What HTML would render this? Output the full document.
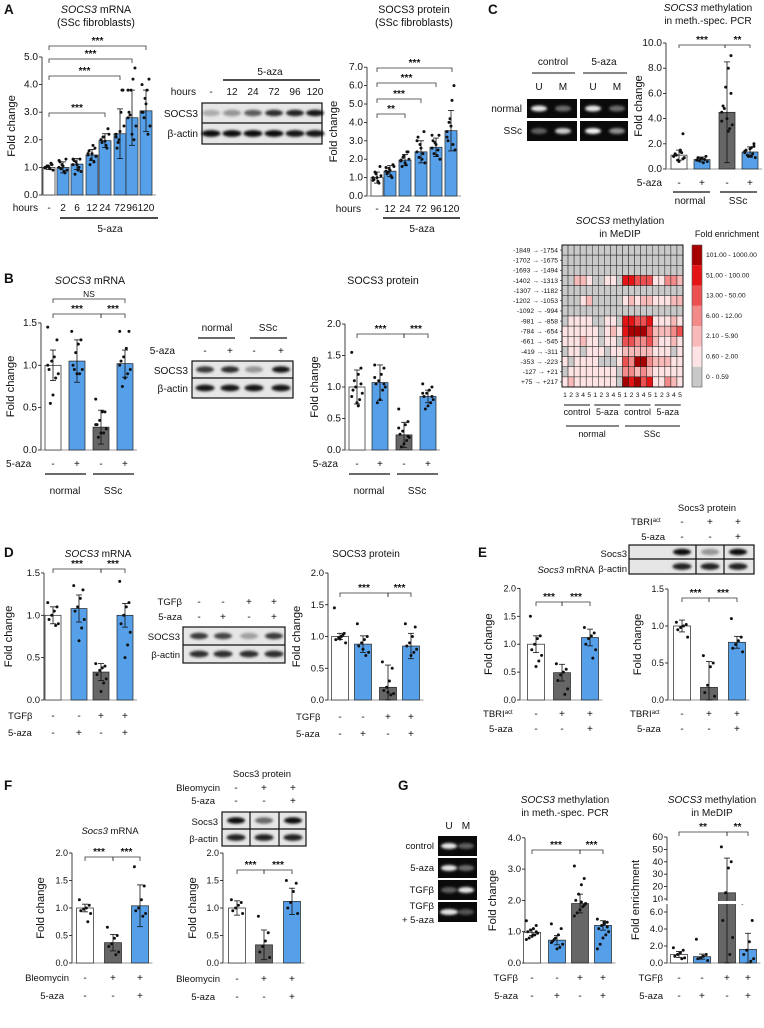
<!DOCTYPE html>
<html><head><meta charset="utf-8"><style>
html,body{margin:0;padding:0;background:#fff;}
svg{display:block;font-family:"Liberation Sans",Arial,sans-serif;}
</style></head><body>
<svg id="fig" width="764" height="1028" viewBox="0 0 764 1028" xmlns="http://www.w3.org/2000/svg">
<defs><filter id="blur" x="-50%" y="-100%" width="200%" height="300%"><feGaussianBlur stdDeviation="1.3"/></filter></defs>
</svg>
<script>
// ---------- DATA ----------
const aMrnaCats=['-','2','6','12','24','72','96','120'];
const aMrnaVals=[1.0,1.0,1.12,1.45,1.97,2.22,2.8,3.05];
const aMrnaErr=[0.08,0.2,0.2,0.2,0.25,0.9,1.0,0.75];
const aMrnaPts=[[1,1.1,0.95,1.05,1.0,0.9,1.15,1.0,1.05,0.98],[1.0,1.3,0.85,1.1,1.2,0.9,0.8,1.05,0.95,1.25],[1.1,1.3,0.9,1.2,1.25,0.85,1.0,1.1,0.75,1.3],[1.5,1.7,1.8,1.3,1.6,1.4,1.2,1.5,1.1,1.45],[2.0,2.4,1.8,2.1,1.9,2.2,1.7,1.95,2.1,2.0],[2.2,3.8,3.0,2.0,1.7,2.5,3.8,2.3,1.9,2.1],[2.8,4.6,4.2,3.8,3.0,2.5,2.0,2.2,2.9,3.8],[3.0,4.2,3.8,3.5,3.0,2.5,2.2,3.3,2.8,4.0]];
const aMrnaTicks=[0,1,2,3,4,5];
const aMrnaTickLabels=['0.0','1.0','2.0','3.0','4.0','5.0'];

const aProtCats=['-','12','24','72','96','120'];
const aProtVals=[1.0,1.35,1.95,2.4,2.65,3.55];
const aProtErr=[0.3,0.3,0.3,0.6,0.5,1.1];
const aProtPts=[[1,1.6,0.8,1.2,0.9,1.1,0.7,1.0,1.3,0.85],[1.35,1.7,1.1,1.5,1.2,1.6,1.0,1.4,1.3,1.55],[1.9,2.4,1.7,2.2,1.6,2.0,2.4,1.8,2.1,1.95],[2.4,3.5,2.0,2.8,3.2,1.8,2.3,2.6,2.1,3.0],[2.6,3.3,2.2,2.9,3.0,2.0,2.5,2.8,2.3,3.3],[3.5,6.0,5.2,4.2,3.0,2.5,2.8,3.8,4.0,3.2]];
const aProtTicks=[0,1,2,3,4,5,6,7];
const aProtTickLabels=['0.0','1.0','2.0','3.0','4.0','5.0','6.0','7.0'];

const cMspVals=[1.1,0.75,4.5,1.35];
const cMspErr=[0.4,0.2,4.0,0.4];
const cMspPts=[[1.0,2.8,1.4,0.7,1.2,0.9,1.3,0.6,1.1,1.0,0.8,1.5],[0.7,1.0,0.5,0.8,0.9,0.6,0.75,0.85,0.65,0.7],[4.5,9.0,8.0,6.5,5.0,3.5,3.2,4.0,4.8,3.8,6.0,3.0],[1.3,2.0,1.7,1.0,1.5,0.9,1.2,1.6,1.1,1.4,1.8,1.0]];
const cMspTicks=[0,2,4,6,8,10];
const cMspTickLabels=['0.0','2.0','4.0','6.0','8.0','10.0'];

const heatRowLabels=['-1849 \u2192 -1754','-1702 \u2192 -1675','-1693 \u2192 -1494','-1402 \u2192 -1313','-1307 \u2192 -1182','-1202 \u2192 -1053','-1092 \u2192 -994','-981 \u2192 -858','-784 \u2192 -654','-661 \u2192 -545','-419 \u2192 -311','-353 \u2192 -223','-127 \u2192 +21','+75 \u2192 +217'];
const heatLevels=[
[0,0,0,0,0,0,0,0,0,0,0,0,0,0,0,0,0,0,0,0],
[0,0,0,0,0,0,0,0,0,0,0,0,0,0,0,0,0,0,0,0],
[0,0,0,0,0,0,0,0,0,0,0,0,0,0,0,0,0,0,0,0],
[0,0,2,2,1,0,0,1,1,0,5,5,4,4,4,1,1,3,3,2],
[0,0,0,0,0,0,0,0,0,0,0,0,0,0,0,0,0,0,0,0],
[0,0,0,1,2,0,0,0,0,0,1,2,1,2,2,1,1,1,2,2],
[0,0,0,0,0,0,0,0,0,0,0,0,0,0,0,0,0,0,0,0],
[0,1,1,1,1,0,0,1,1,0,5,5,4,4,5,1,1,1,2,1],
[1,1,1,1,1,1,0,1,2,1,5,6,6,6,4,2,2,2,3,4],
[1,1,1,2,1,1,0,1,1,0,4,4,3,3,4,2,1,1,2,1],
[0,1,1,0,1,1,1,0,1,1,2,2,2,2,2,1,1,1,0,1],
[1,0,1,1,1,1,0,0,0,1,4,3,6,6,3,2,2,2,1,1],
[0,1,1,1,1,1,1,1,1,0,3,3,2,3,2,1,1,1,1,1],
[1,2,1,1,1,1,1,1,1,0,6,5,6,4,5,1,1,3,2,1]];
const heatLegendLabels=['101.00 - 1000.00','51.00 - 100.00','13.00 - 50.00','6.00 - 12.00','2.10 - 5.90','0.60 - 2.00','0 - 0.59'];
const heatColors=['#c9c9c9','#fde3e3','#f8b9b9','#f38a8a','#ec5050','#e41414','#a60000'];

const bMrnaVals=[1.0,1.05,0.27,1.02];
const bMrnaErr=[0.18,0.25,0.2,0.16];
const bMrnaPts=[[1.45,1.3,1.1,1.05,0.95,0.9,0.85,0.65,0.55,1.0],[1.4,1.3,1.25,1.15,1.0,0.95,0.9,0.9,0.95],[0.6,0.45,0.45,0.35,0.3,0.25,0.2,0.2,0.15,0.3],[1.4,1.4,1.2,1.1,1.05,0.95,0.9,0.85,0.75,1.0]];
const bProtVals=[1.0,1.07,0.24,0.85];
const bProtErr=[0.27,0.28,0.2,0.1];
const bProtPts=[[1.55,1.3,1.2,1.0,0.95,0.9,0.8,0.75,1.1,0.85,1.05,0.7],[1.35,1.3,1.2,1.1,1.05,1.0,0.95,0.8,0.75,1.15,1.05],[0.65,0.45,0.4,0.3,0.25,0.2,0.15,0.1,0.05,0.35,0.22],[1.05,1.0,0.95,0.9,0.85,0.8,0.75,0.7,0.65,0.9,0.85]];
const ticks15=[0,0.5,1,1.5];
const ticks15Labels=['0.0','0.5','1.0','1.5'];
const ticks20=[0,0.5,1,1.5,2];
const ticks20Labels=['0.0','0.5','1.0','1.5','2.0'];

const dMrnaVals=[1.0,1.08,0.33,1.0];
const dMrnaErr=[0.1,0.16,0.1,0.14];
const dMrnaPts=[[1.15,1.1,1.05,1.0,0.95,0.9,0.88],[1.35,1.3,1.2,1.1,1.05,0.95,0.85,0.7],[0.43,0.4,0.38,0.35,0.3,0.25,0.2,0.1],[1.4,1.15,1.1,1.0,0.9,0.8,0.65,0.5]];
const dProtVals=[1.0,0.88,0.2,0.85];
const dProtErr=[0.05,0.13,0.35,0.2];
const dProtPts=[[1.45,1.05,1.0,0.98,0.95,0.9,1.02,0.96],[1.2,1.0,0.95,0.9,0.85,0.75,0.7,0.8],[0.6,0.5,0.3,0.2,0.15,0.1,0.08,0.12],[1.2,1.15,1.0,0.9,0.85,0.8,0.75,0.7]];

const eMrnaVals=[1.0,0.49,1.12];
const eMrnaErr=[0.15,0.15,0.15];
const eMrnaPts=[[1.5,1.15,1.1,1.0,0.9,0.8,0.7,0.6],[0.65,0.55,0.5,0.45,0.35,0.2,0.1],[1.3,1.2,1.15,1.1,1.0,0.9,0.75]];
const eProtVals=[1.0,0.17,0.78];
const eProtErr=[0.08,0.35,0.08];
const eProtPts=[[1.05,1.02,1.0,0.98,0.95,0.85],[0.6,0.5,0.45,0.2,0.1,0.05],[1.1,0.85,0.8,0.75,0.7,0.65]];
const ticks15b=[0,0.5,1,1.5];

const fMrnaVals=[1.0,0.37,1.04];
const fMrnaErr=[0.07,0.15,0.38];
const fMrnaPts=[[1.15,1.05,1.0,0.98,0.95,0.9,0.75],[0.65,0.5,0.45,0.35,0.3,0.2,0.15],[1.75,1.4,1.15,1.0,0.95,0.9,0.85]];
const fProtVals=[1.0,0.33,1.12];
const fProtErr=[0.13,0.27,0.24];
const fProtPts=[[1.15,1.1,1.05,1.0,0.95,0.9],[0.85,0.55,0.4,0.3,0.2,0.1],[1.5,1.45,1.3,1.1,1.0,0.9]];

const gMspVals=[0.98,0.73,1.9,1.2];
const gMspErr=[0.1,0.15,0.3,0.15];
const gMspPts=[[1.35,1.2,1.1,1.05,1.0,0.95,0.9,0.85,0.8,0.75,1.0,0.9],[1.25,1.1,0.9,0.8,0.7,0.6,0.5,0.45,0.75,0.65],[3.1,2.7,2.5,2.2,2.0,1.9,1.8,1.7,1.6,1.5,1.85,1.95],[1.4,1.3,1.25,1.2,1.1,1.0,0.9,0.8,0.6,0.45,1.15,1.3]];
const gMspTicks=[0,1,2,3,4];
const gMspTickLabels=['0.0','1.0','2.0','3.0','4.0'];
const gMedipVals=[1.0,0.75,15,1.6];
const gMedipErr=[0.35,0.3,28,1.9];
const gMedipPts=[[1.8,1.5,1.2,1.0,0.8,0.6,0.5],[2.8,1.0,0.8,0.6,0.5,0.3],[52,40,35,15,5,3,1],[7,5,2.5,1.5,1.0,0.5,0.2]];
const gMedipTicksLow=[0,2,4,6];
const gMedipTicksLowLabels=['0.0','2.0','4.0','6.0'];
const gMedipTicksHigh=[10,20,30,40,50,60];

// ---------- HELPERS ----------
const NS='http://www.w3.org/2000/svg';
const FSK=1.12;
const svg=document.getElementById('fig');
function mk(tag,attrs,name,parent){
  const el=document.createElementNS(NS,tag);
  for(const k in attrs) el.setAttribute(k,attrs[k]);
  
  
  (parent||svg).appendChild(el);
  return el;
}
function txt(x,y,s,name,o){
  o=o||{};
  const el=mk('text',{x:x,y:y,'font-size':(o.fs||9)*FSK,'text-anchor':o.anchor||'middle',fill:o.fill||'#111','font-weight':o.bold?'bold':'normal','font-style':o.italic?'italic':'normal'},name);
  if(o.rot) el.setAttribute('transform','rotate(-90 '+x+' '+y+')');
  el.textContent=s;
  return el;
}
function titleTxt(x,y,ital,rest,name,fs){
  const el=mk('text',{x:x,y:y,'font-size':(fs||9.5)*FSK,'text-anchor':'middle',fill:'#111'},name);
  if(ital){const t=document.createElementNS(NS,'tspan');t.setAttribute('font-style','italic');t.textContent=ital;el.appendChild(t);}
  const t2=document.createElementNS(NS,'tspan');t2.textContent=rest;el.appendChild(t2);
  return el;
}
function line(x1,y1,x2,y2,name,w,c){return mk('line',{x1:x1,y1:y1,x2:x2,y2:y2,stroke:c||'#111','stroke-width':w||0.8},name);}
const FILL={w:'#ffffff',b:'#56a0ea',g:'#666666'};
function chart(o){
  const yOf=o.map||(v=>o.y0-v*o.ppu);
  const top=o.axisTop!==undefined?o.axisTop:yOf(o.ticks[o.ticks.length-1]);
  line(o.ax,o.y0,o.ax,top,o.name+'-y-axis',0.8);
  o.ticks.forEach((t,i)=>{
    const y=yOf(t);
    line(o.ax-3,y,o.ax,y,o.name+'-y-tick',0.8);
    txt(o.ax-4,y+3,o.tickLabels[i],o.name+'-y-tick-label',{anchor:'end',fs:o.fs||9});
  });
  const last=o.centers[o.centers.length-1];
  line(o.ax,o.y0,last+o.bw/2+4,o.y0,o.name+'-x-axis',1,'#999');
  o.vals.forEach((v,i)=>{
    const c=o.centers[i],y=yOf(v);
    mk('rect',{x:c-o.bw/2,y:y,width:o.bw,height:o.y0-y,fill:FILL[o.fills[i]],stroke:'#222','stroke-width':0.7},o.name+'-bar-'+i);
    const e=o.errs[i],yh=yOf(v+e),yl=yOf(Math.max(0,v-e));
    line(c,yl,c,yh,o.name+'-error-bar',0.8);
    line(c-3,yh,c+3,yh,o.name+'-error-cap',0.8);
    line(c-3,yl,c+3,yl,o.name+'-error-cap',0.8);
    o.pts[i].forEach((p,j)=>{
      const dx=(((j*7)%9)-4)/4*o.bw*0.33;
      mk('circle',{cx:c+dx,cy:yOf(p),r:1.5,fill:'#111'},o.name+'-data-point');
    });
  });
  if(o.yTitle) txt(o.yTitleX,(o.y0+top)/2,o.yTitle,o.name+'-y-axis-title',{rot:true,fs:o.yfs||10,anchor:'middle'});
}
function bracket(x1,x2,y,lab,name,drop){
  drop=drop||4;
  mk('path',{d:`M${x1},${y+drop}V${y}H${x2}V${y+drop}`,fill:'none',stroke:'#333','stroke-width':0.8},name);
  txt((x1+x2)/2,y-2,lab,name+'-label',{fs:lab==='NS'?7.5:9,bold:lab!=='NS'});
}
function pmRow(centers,y,labels,name,fs){labels.forEach((l,i)=>txt(centers[i],y,l,name,{fs:fs||9}));}
function blot(x,y,w,h,split,lanes,top,bot,name,dividers){
  mk('rect',{x:x,y:y,width:w,height:h,fill:'#e6e6e6',stroke:'#111','stroke-width':1.2},name+'-frame');
  line(x,y+split,x+w,y+split,name+'-row-divider',1.2);
  if(dividers) dividers.forEach(d=>line(d,y,d,y+h,name+'-lane-divider',1.2));
  lanes.forEach((c,i)=>{
    mk('ellipse',{cx:c,cy:y+split/2,rx:9,ry:3.2,fill:'#000','fill-opacity':top[i],filter:'url(#blur)'},name+'-target-band');
    mk('ellipse',{cx:c,cy:y+split+(h-split)/2,rx:9.5,ry:3.4,fill:'#000','fill-opacity':bot[i],filter:'url(#blur)'},name+'-actin-band');
  });
}
function gelBox(x,y,w,h,bands,name){
  mk('rect',{x:x,y:y,width:w,height:h,fill:'#0a0a0a'},name);
  bands.forEach(b=>mk('ellipse',{cx:b[0],cy:y+h/2,rx:b[2]||8,ry:3,fill:'#fff','fill-opacity':b[1],filter:'url(#blur)'},name+'-band'));
}

// ---------- PANEL LETTERS ----------
[['A',4,14],['C',488,14],['B',4,283],['D',4,557],['E',478,557],['F',4,790],['G',398,790]].forEach(p=>txt(p[1],p[2],p[0],'panel-label-'+p[0].toLowerCase(),{anchor:'start',bold:true,fs:12}));

// ---------- A ----------
titleTxt(96,13,'SOCS3',' mRNA','a-mrna-title',9.5);
txt(96,26,'(SSc fibroblasts)','a-mrna-subtitle',{fs:9.5});
const aC=[49,63,77,92,105,120,132,146];
chart({name:'a-mrna',ax:42,y0:195,ppu:27.6,ticks:aMrnaTicks,tickLabels:aMrnaTickLabels,centers:aC,bw:12,vals:aMrnaVals,errs:aMrnaErr,pts:aMrnaPts,fills:['w','b','b','b','b','b','b','b'],yTitle:'Fold change',yTitleX:15});
bracket(49,146,46,'***','a-mrna-sig');bracket(49,132,59,'***','a-mrna-sig');bracket(49,120,76,'***','a-mrna-sig');bracket(49,105,113,'***','a-mrna-sig');
txt(38,211,'hours','a-mrna-hours-label',{anchor:'end',fs:9});
pmRow(aC,211,aMrnaCats,'a-mrna-hours-tick');
line(60,218,158,218,'a-mrna-5aza-line',1.5);
txt(110,232,'5-aza','a-mrna-5aza-label');

txt(270,75,'5-aza','a-blot-5aza-label');
line(223,80,320,80,'a-blot-5aza-line',1.5);
const aBl=[211,232,253,274,295,315];
txt(196,95,'hours','a-blot-hours-label',{anchor:'end'});
pmRow(aBl,95,['-','12','24','72','96','120'],'a-blot-hours');
blot(202,103,120,41,20,aBl,[0.25,0.35,0.6,0.8,0.85,0.9],[0.95,0.95,0.95,0.95,0.9,0.9],'a-blot');
txt(198,117,'SOCS3','a-blot-socs3-label',{anchor:'end'});
txt(198,137,'\u03b2-actin','a-blot-actin-label',{anchor:'end'});

txt(414,13,'SOCS3 protein','a-prot-title',{fs:9.5});
txt(414,26,'(SSc fibroblasts)','a-prot-subtitle',{fs:9.5});
const aPC=[377,390,405,421,436,451];
chart({name:'a-prot',ax:367,y0:196,ppu:18.4,ticks:aProtTicks,tickLabels:aProtTickLabels,centers:aPC,bw:12,vals:aProtVals,errs:aProtErr,pts:aProtPts,fills:['w','b','b','b','b','b'],yTitle:'Fold change',yTitleX:337});
bracket(377,452,68,'***','a-prot-sig');bracket(377,436,83,'***','a-prot-sig');bracket(377,421,99,'***','a-prot-sig');bracket(377,405,114,'**','a-prot-sig');
txt(361,212,'hours','a-prot-hours-label',{anchor:'end'});
pmRow(aPC,212,aProtCats,'a-prot-hours-tick');
line(383,218,460,218,'a-prot-5aza-line',1.5);
txt(422,232,'5-aza','a-prot-5aza-label');

// ---------- C ----------
txt(553,65,'control','c-gel-control-label');txt(604,65,'5-aza','c-gel-5aza-label');
line(532,73,575,73,'c-gel-line',1);line(583,73,627,73,'c-gel-line',1);
[['U',539],['M',563],['U',593],['M',617]].forEach(p=>txt(p[1],90,p[0],'c-gel-lane-label'));
gelBox(527,99,50,19,[[539,0.9],[563,0.4]],'c-gel-normal-control');
gelBox(580,99,48,19,[[593,0.9],[617,0.4]],'c-gel-normal-5aza');
gelBox(527,121,50,20,[[539,0.35],[563,0.8]],'c-gel-ssc-control');
gelBox(580,121,48,20,[[593,0.95],[617,0.55]],'c-gel-ssc-5aza');
txt(522,112,'normal','c-gel-normal-label',{anchor:'end'});
txt(522,134,'SSc','c-gel-ssc-label',{anchor:'end'});

titleTxt(708,11,'SOCS3',' methylation','c-msp-title',9);
txt(708,24,'in meth.-spec. PCR','c-msp-subtitle',{fs:9});
const cC=[679,702,727,750];
chart({name:'c-msp',ax:666,y0:169,ppu:12.6,ticks:cMspTicks,tickLabels:cMspTickLabels,centers:cC,bw:16,vals:cMspVals,errs:cMspErr,pts:cMspPts,fills:['w','b','g','b'],yTitle:'Fold change',yTitleX:642});
bracket(679,725,45,'***','c-msp-sig',3);bracket(725,750,45,'**','c-msp-sig',3);
txt(662,186,'5-aza','c-msp-5aza-label',{anchor:'end'});
pmRow(cC,186,['-','+','-','+'],'c-msp-5aza-tick');
line(673,192,710,192,'c-msp-normal-line',1.2);line(720,192,757,192,'c-msp-ssc-line',1.2);
txt(690,204,'normal','c-msp-normal-label');txt(738,204,'SSc','c-msp-ssc-label');

// heatmap
titleTxt(620,224,'SOCS3',' methylation','c-medip-title',9);
txt(620,237,'in MeDIP','c-medip-subtitle',{fs:9});
const hx0=562,hy0=245,cw=(683-562)/20,ch=(387-245)/14;
heatLevels.forEach((row,r)=>{
  row.forEach((lv,c)=>{
    mk('rect',{x:hx0+c*cw,y:hy0+r*ch,width:cw,height:ch,fill:heatColors[lv],stroke:'#222','stroke-width':0.5},'heatmap-cell');
  });
  txt(hx0-4,hy0+r*ch+ch/2+2.3,heatRowLabels[r],'heatmap-row-label',{anchor:'end',fs:6});
  line(hx0-2,hy0+r*ch+ch/2,hx0,hy0+r*ch+ch/2,'heatmap-row-tick',0.6);
});
mk('rect',{x:hx0,y:hy0,width:121,height:142,fill:'none',stroke:'#111','stroke-width':1},'heatmap-frame');
for(let c=0;c<20;c++) txt(hx0+c*cw+cw/2,397,String(c%5+1),'heatmap-col-label',{fs:6});
['control','5-aza','control','5-aza'].forEach((s,i)=>{txt(hx0+i*30.25+15,415,s,'heatmap-group-label',{fs:8});line(hx0+i*30.25+2,405,hx0+i*30.25+28,405,'heatmap-group-line',1);});
txt(592,437,'normal','heatmap-normal-label',{fs:8});txt(652,437,'SSc','heatmap-ssc-label',{fs:8});
line(566,426,619,426,'heatmap-normal-line',1);line(625,426,680,426,'heatmap-ssc-line',1);
txt(727,237,'Fold enrichment','heatmap-legend-title',{fs:8});
heatLegendLabels.forEach((l,i)=>{
  mk('rect',{x:692,y:245+i*20.3,width:10,height:20.3,fill:heatColors[6-i]},'heatmap-legend-swatch');
  txt(706,245+i*20.3+12,l,'heatmap-legend-label',{anchor:'start',fs:6});
});
mk('rect',{x:692,y:245,width:10,height:142,fill:'none',stroke:'#555','stroke-width':0.6},'heatmap-legend-frame');

// ---------- B ----------
titleTxt(90,284,'SOCS3',' mRNA','b-mrna-title',9.5);
const bC=[53,77,101,125];
chart({name:'b-mrna',ax:41,y0:450,ppu:84.7,ticks:ticks15,tickLabels:ticks15Labels,centers:bC,bw:16,vals:bMrnaVals,errs:bMrnaErr,pts:bMrnaPts,fills:['w','b','g','b'],yTitle:'Fold change',yTitleX:14});
bracket(53,125,299,'NS','b-mrna-ns');bracket(53,101,314,'***','b-mrna-sig');bracket(101,125,314,'***','b-mrna-sig');
txt(6,467,'5-aza','b-mrna-5aza-label',{anchor:'start'});
pmRow(bC,467,['-','+','-','+'],'b-mrna-5aza-tick');
line(45,474,86,474,'b-mrna-normal-line',1.2);line(93,474,134,474,'b-mrna-ssc-line',1.2);
txt(65,494,'normal','b-mrna-normal-label');txt(113,494,'SSc','b-mrna-ssc-label');

txt(217,331,'normal','b-blot-normal-label');txt(268,331,'SSc','b-blot-ssc-label');
line(198,338,235,338,'b-blot-normal-line',1.2);line(250,338,287,338,'b-blot-ssc-line',1.2);
const bBl=[205,230,254,281];
txt(175,354,'5-aza','b-blot-5aza-label',{anchor:'end'});
pmRow(bBl,354,['-','+','-','+'],'b-blot-5aza-tick');
blot(192,361,101,37,17,bBl,[0.75,0.8,0.35,0.9],[0.9,0.9,0.9,0.9],'b-blot');
txt(188,374,'SOCS3','b-blot-socs3-label',{anchor:'end'});
txt(188,392,'\u03b2-actin','b-blot-actin-label',{anchor:'end'});

txt(383,284,'SOCS3 protein','b-prot-title',{fs:9.5});
const bPC=[357,380,404,428];
chart({name:'b-prot',ax:345,y0:450,ppu:63,ticks:ticks20,tickLabels:ticks20Labels,centers:bPC,bw:16,vals:bProtVals,errs:bProtErr,pts:bProtPts,fills:['w','b','g','b'],yTitle:'Fold change',yTitleX:318});
bracket(357,404,334,'***','b-prot-sig');bracket(404,428,334,'***','b-prot-sig');
txt(338,467,'5-aza','b-prot-5aza-label',{anchor:'end'});
pmRow(bPC,467,['-','+','-','+'],'b-prot-5aza-tick');
line(349,474,390,474,'b-prot-normal-line',1.2);line(397,474,438,474,'b-prot-ssc-line',1.2);
txt(369,494,'normal','b-prot-normal-label');txt(417,494,'SSc','b-prot-ssc-label');

// ---------- D ----------
titleTxt(98,557,'SOCS3',' mRNA','d-mrna-title',9);
const dC=[53,79,101,125];
chart({name:'d-mrna',ax:44,y0:700,ppu:84.7,ticks:ticks15,tickLabels:ticks15Labels,centers:dC,bw:16,vals:dMrnaVals,errs:dMrnaErr,pts:dMrnaPts,fills:['w','b','g','b'],yTitle:'Fold change',yTitleX:12,fs:8.5});
bracket(53,101,569,'***','d-mrna-sig');bracket(101,125,569,'***','d-mrna-sig');
txt(8,719,'TGF\u03b2','d-mrna-tgfb-label',{anchor:'start',fs:8.5});
txt(8,736,'5-aza','d-mrna-5aza-label',{anchor:'start',fs:8.5});
pmRow(dC,719,['-','-','+','+'],'d-mrna-tgfb-tick');pmRow(dC,736,['-','+','-','+'],'d-mrna-5aza-tick');

const dBl=[199,223,249,274];
txt(182,605,'TGF\u03b2','d-blot-tgfb-label',{anchor:'end',fs:8.5});
txt(182,620,'5-aza','d-blot-5aza-label',{anchor:'end',fs:8.5});
pmRow(dBl,605,['-','-','+','+'],'d-blot-tgfb-tick');pmRow(dBl,620,['-','+','-','+'],'d-blot-5aza-tick');
blot(183,627,102,36,18,dBl,[0.75,0.7,0.3,0.75],[0.8,0.8,0.8,0.8],'d-blot');
txt(180,640,'SOCS3','d-blot-socs3-label',{anchor:'end',fs:8.5});
txt(180,658,'\u03b2-actin','d-blot-actin-label',{anchor:'end',fs:8.5});

txt(366,557,'SOCS3 protein','d-prot-title',{fs:9});
const dPC=[340,363,388,411];
chart({name:'d-prot',ax:328,y0:700,ppu:63.5,ticks:ticks20,tickLabels:ticks20Labels,centers:dPC,bw:17,vals:dProtVals,errs:dProtErr,pts:dProtPts,fills:['w','b','g','b'],yTitle:'Fold change',yTitleX:300,fs:8.5});
bracket(340,388,593,'***','d-prot-sig');bracket(388,411,593,'***','d-prot-sig');
txt(296,720,'TGF\u03b2','d-prot-tgfb-label',{anchor:'start',fs:8.5});
txt(296,737,'5-aza','d-prot-5aza-label',{anchor:'start',fs:8.5});
pmRow(dPC,720,['-','-','+','+'],'d-prot-tgfb-tick');pmRow(dPC,737,['-','+','-','+'],'d-prot-5aza-tick');

// ---------- E ----------
titleTxt(566,573,'Socs3',' mRNA','e-mrna-title',8.5);
const eC=[536,562,590];
chart({name:'e-mrna',ax:520,y0:700,ppu:55.8,ticks:ticks20,tickLabels:ticks20Labels,centers:eC,bw:17,vals:eMrnaVals,errs:eMrnaErr,pts:eMrnaPts,fills:['w','g','b'],yTitle:'Fold change',yTitleX:492,fs:8});
bracket(536,562,602,'***','e-mrna-sig');bracket(562,590,602,'***','e-mrna-sig');
const tbri=(x,y,name)=>{const el=mk('text',{x:x,y:y,'font-size':8.5*FSK,'text-anchor':'start',fill:'#111'},name);el.textContent='TBRI';const s=document.createElementNS(NS,'tspan');s.setAttribute('font-size','6');s.setAttribute('dy','-3');s.textContent='act';el.appendChild(s);};
tbri(483,717,'e-mrna-tbri-label');
txt(489,732,'5-aza','e-mrna-5aza-label',{anchor:'start',fs:8.5});
pmRow(eC,717,['-','+','+'],'e-mrna-tbri-tick');pmRow(eC,732,['-','-','+'],'e-mrna-5aza-tick');

txt(707,511,'Socs3 protein','e-prot-title',{fs:8.5});
const eBl=[682,710,738];
tbri(631,525,'e-blot-tbri-label');
txt(665,540,'5-aza','e-blot-5aza-label',{anchor:'end',fs:8.5});
pmRow(eBl,525,['-','+','+'],'e-blot-tbri-tick');pmRow(eBl,540,['-','-','+'],'e-blot-5aza-tick');
blot(629,545,125,29,14,eBl,[0.95,0.35,0.95],[0.85,0.85,0.85],'e-blot',[696,724]);
txt(627,557,'Socs3','e-blot-socs3-label',{anchor:'end',fs:8.5});
txt(627,572,'\u03b2-actin','e-blot-actin-label',{anchor:'end',fs:8.5});
const ePC=[682,709,737];
chart({name:'e-prot',ax:668,y0:700,ppu:74,ticks:ticks15b,tickLabels:ticks15Labels,centers:ePC,bw:17,vals:eProtVals,errs:eProtErr,pts:eProtPts,fills:['w','g','b'],yTitle:'Fold change',yTitleX:641,fs:8});
bracket(682,709,598,'***','e-prot-sig');bracket(709,737,598,'***','e-prot-sig');
tbri(630,717,'e-prot-tbri-label');
txt(637,732,'5-aza','e-prot-5aza-label',{anchor:'start',fs:8.5});
pmRow(ePC,717,['-','+','+'],'e-prot-tbri-tick');pmRow(ePC,732,['-','-','+'],'e-prot-5aza-tick');

// ---------- F ----------
titleTxt(110,834,'Socs3',' mRNA','f-mrna-title',8.5);
const fC=[85,113,140];
chart({name:'f-mrna',ax:72,y0:963,ppu:55,ticks:ticks20,tickLabels:ticks20Labels,centers:fC,bw:17,vals:fMrnaVals,errs:fMrnaErr,pts:fMrnaPts,fills:['w','g','b'],yTitle:'Fold change',yTitleX:44,fs:8});
bracket(85,113,857,'***','f-mrna-sig');bracket(113,140,857,'***','f-mrna-sig');
txt(69,981,'Bleomycin','f-mrna-bleo-label',{anchor:'end',fs:8.5});
txt(64,999,'5-aza','f-mrna-5aza-label',{anchor:'end',fs:8.5});
pmRow(fC,981,['-','+','+'],'f-mrna-bleo-tick');pmRow(fC,999,['-','-','+'],'f-mrna-5aza-tick');

txt(262,777,'Socs3 protein','f-prot-title',{fs:8.5});
const fBl=[236,264,293];
txt(220,791,'Bleomycin','f-blot-bleo-label',{anchor:'end',fs:8.5});
txt(215,804,'5-aza','f-blot-5aza-label',{anchor:'end',fs:8.5});
pmRow(fBl,791,['-','+','+'],'f-blot-bleo-tick');pmRow(fBl,804,['-','-','+'],'f-blot-5aza-tick');
blot(222,812,84,34,17,fBl,[0.95,0.55,0.95],[0.85,0.85,0.85],'f-blot',[250,279]);
txt(218,825,'Socs3','f-blot-socs3-label',{anchor:'end',fs:8.5});
txt(218,842,'\u03b2-actin','f-blot-actin-label',{anchor:'end',fs:8.5});
const fPC=[237,264,292];
chart({name:'f-prot',ax:223,y0:963,ppu:55,ticks:ticks20,tickLabels:ticks20Labels,centers:fPC,bw:17,vals:fProtVals,errs:fProtErr,pts:fProtPts,fills:['w','g','b'],yTitle:'Fold change',yTitleX:196,fs:8});
bracket(237,264,870,'***','f-prot-sig');bracket(264,292,870,'***','f-prot-sig');
txt(220,982,'Bleomycin','f-prot-bleo-label',{anchor:'end',fs:8.5});
txt(215,1000,'5-aza','f-prot-5aza-label',{anchor:'end',fs:8.5});
pmRow(fPC,982,['-','+','+'],'f-prot-bleo-tick');pmRow(fPC,1000,['-','-','+'],'f-prot-5aza-tick');

// ---------- G ----------
txt(449,829,'U','g-gel-u-label');txt(466,829,'M','g-gel-m-label');
const gGel=[[[449,0.9],[466,0.35]],[[449,0.9],[466,0.4]],[[449,0.35],[466,0.9]],[[449,0.9,9],[466,0.3]]];
gGel.forEach((b,i)=>gelBox(438,836+i*22,39,20,b,'g-gel-row-'+i));
txt(434,849,'control','g-gel-control-label',{anchor:'end',fs:8.5});
txt(434,871,'5-aza','g-gel-5aza-label',{anchor:'end',fs:8.5});
txt(434,893,'TGF\u03b2','g-gel-tgfb-label',{anchor:'end',fs:8.5});
txt(434,909,'TGF\u03b2','g-gel-tgfb-aza-label',{anchor:'end',fs:8.5});
txt(434,923,'+ 5-aza','g-gel-tgfb-aza-label2',{anchor:'end',fs:8.5});

titleTxt(565,803,'SOCS3',' methylation','g-msp-title',9);
txt(565,816,'in meth.-spec. PCR','g-msp-subtitle',{fs:9});
const gC=[532,557,580,603];
chart({name:'g-msp',ax:525,y0:963,ppu:31.3,ticks:gMspTicks,tickLabels:gMspTickLabels,centers:gC,bw:17,vals:gMspVals,errs:gMspErr,pts:gMspPts,fills:['w','b','g','b'],yTitle:'Fold change',yTitleX:496,fs:8.5});
bracket(532,580,850,'***','g-msp-sig');bracket(580,603,850,'***','g-msp-sig');
txt(518,981,'TGF\u03b2','g-msp-tgfb-label',{anchor:'end',fs:8.5});
txt(518,999,'5-aza','g-msp-5aza-label',{anchor:'end',fs:8.5});
pmRow(gC,981,['-','-','+','+'],'g-msp-tgfb-tick');pmRow(gC,999,['-','+','-','+'],'g-msp-5aza-tick');

titleTxt(712,803,'SOCS3',' methylation','g-medip-title',9);
txt(712,816,'in MeDIP','g-medip-subtitle',{fs:9});
const gMC=[679,702,727,748];
const medipY=v=>v<=6.7?963-v*8.5:(v<10?903:899-(v-10)*1.24);
const gAllTicks=gMedipTicksLow.concat(gMedipTicksHigh);
chart({name:'g-medip',ax:667,y0:963,map:medipY,axisTop:837,ticks:gAllTicks,tickLabels:gMedipTicksLowLabels.concat(gMedipTicksHigh.map(String)),centers:gMC,bw:17,vals:gMedipVals,errs:gMedipErr,pts:gMedipPts,fills:['w','b','g','b'],yTitle:'Fold enrichment',yTitleX:639,fs:8.5});
mk('rect',{x:660,y:901,width:100,height:3,fill:'#fff'},'g-medip-axis-break');
txt(663,981,'TGF\u03b2','g-medip-tgfb-label',{anchor:'end',fs:8.5});
txt(663,999,'5-aza','g-medip-5aza-label',{anchor:'end',fs:8.5});
pmRow(gMC,981,['-','-','+','+'],'g-medip-tgfb-tick');pmRow(gMC,999,['-','+','-','+'],'g-medip-5aza-tick');
bracket(679,727,832,'**','g-medip-sig');bracket(727,748,832,'**','g-medip-sig');
</script>
</body></html>
